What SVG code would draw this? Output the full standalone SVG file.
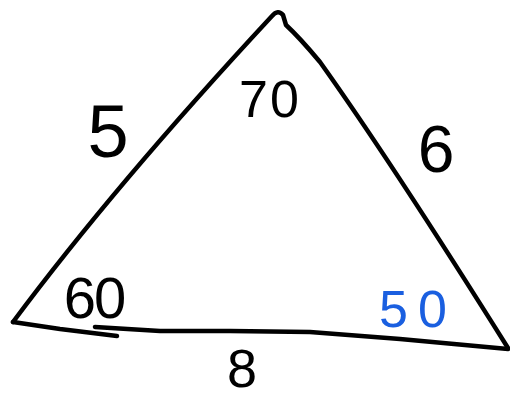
<svg xmlns="http://www.w3.org/2000/svg" width="510" height="401" viewBox="0 0 510 401">
<style>
.ln{fill:none;stroke:#000;stroke-width:4.5;stroke-linecap:round;stroke-linejoin:round}
.t{font-family:"Liberation Sans","DejaVu Sans",sans-serif;text-anchor:middle;fill:#000}
.b{fill:#1a5fe0}
</style>
<rect width="510" height="401" fill="#fff"/>
<g id="triangle">
<path class="ln" d="M13,322 Q115,185 272,16 Q278,9 283,15 L286,25 Q300,38 320,62 Q390,160 508,348"/>
<path class="ln" d="M13,322 L60,329 L117,336"/>
<path class="ln" d="M95,327 L160,331 L230,331 L310,332 L400,339 L508,349"/>
</g>
<g id="labels">
<text class="t" x="108" y="157" font-size="74">5</text>
<text class="t" x="270" y="117" font-size="52" letter-spacing="2">70</text>
<text class="t" x="436" y="172" font-size="66">6</text>
<text class="t" x="94" y="318" font-size="58" letter-spacing="-2">60</text>
<text class="t b" x="418" y="327" font-size="52" letter-spacing="10">50</text>
<text class="t" x="242" y="387" font-size="54">8</text>
</g>
</svg>
